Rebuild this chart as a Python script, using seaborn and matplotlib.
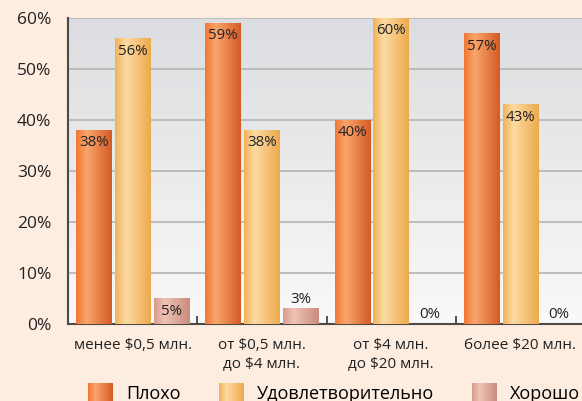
import numpy as np
import pandas as pd
import matplotlib
matplotlib.use('Agg')
import matplotlib.pyplot as plt
import seaborn as sns
from matplotlib.colors import LinearSegmentedColormap
from matplotlib.patches import Rectangle
from matplotlib.legend_handler import HandlerBase
from matplotlib.image import BboxImage
from matplotlib.transforms import Bbox, TransformedBbox

categories = ['менее $0,5 млн.', 'от $0,5 млн.\nдо $4 млн.',
              'от $4 млн.\nдо $20 млн.', 'более $20 млн.']
series = ['Плохо', 'Удовлетворительно', 'Хорошо']
plokho = [38, 59, 40, 57]
udovl = [56, 38, 60, 43]
khorosho = [5, 3, 0, 0]

# gradient stops per series: left, light, right
grad_colors = {
    'Плохо': ['#f27632', '#f9a56c', '#d45a24'],
    'Удовлетворительно': ['#f0b256', '#fcdaa2', '#edaa4c'],
    'Хорошо': ['#d99a8b', '#efc3b6', '#c98b7d'],
}
mid_colors = {k: v[1] for k, v in grad_colors.items()}

df = pd.DataFrame({
    'cat': categories * 3,
    'series': [s for s in series for _ in categories],
    'val': plokho + udovl + khorosho,
})

cmaps = {k: LinearSegmentedColormap.from_list(k, [(0, v[0]), (0.3, v[1]), (1, v[2])])
         for k, v in grad_colors.items()}
grad = np.linspace(0, 1, 256).reshape(1, -1)

plt.rcParams['font.family'] = ['Open Sans', 'DejaVu Sans']

fig = plt.figure(figsize=(5.82, 4.01), dpi=100)
fig.patch.set_facecolor('#fdece0')
ax = fig.add_axes([68 / 582, 77 / 401, 517 / 582, 306 / 401])

sns.barplot(data=df, x='cat', y='val', hue='series', palette=mid_colors,
            width=0.9, gap=0.08, ax=ax, legend=False, zorder=3)

# фон осей с градиентом
bg = LinearSegmentedColormap.from_list('bg', ['#f9f9f9', '#dcdde0'])
ax.imshow(np.linspace(0, 1, 256).reshape(-1, 1), extent=[-0.5, 3.5, 0, 60],
          origin='lower', aspect='auto', cmap=bg, zorder=0)

for name, cont in zip(series, ax.containers):
    for bar in cont:
        x, w, h = bar.get_x(), bar.get_width(), bar.get_height()
        if h > 0:
            bar.set_facecolor('none')
            ax.imshow(grad, extent=[x, x + w, 0, h], aspect='auto',
                      cmap=cmaps[name], zorder=3, interpolation='bilinear')
        if h >= 5:
            ax.text(x + w / 2, h - 2.5, f'{h:.0f}%', ha='center', va='center',
                    fontsize=10.8, color='#222222', zorder=5)
        else:
            ax.text(x + w / 2, h + 1.9, f'{h:.0f}%', ha='center', va='center',
                    fontsize=10.8, color='#222222', zorder=5)

ax.set_xlim(-0.5, 3.5)
ax.set_ylim(0, 60)
ax.set_yticks(range(0, 61, 10))
ax.set_yticklabels([f'{v}%' for v in range(0, 61, 10)], fontsize=12.5, color='#222222')
ax.yaxis.grid(True, color='#b9b9b9', linewidth=1.3, zorder=1)
ax.set_axisbelow(True)
ax.tick_params(axis='y', length=0, pad=12)
ax.tick_params(axis='x', length=0, pad=10, labelsize=11, labelcolor='#222222')
for lbl in ax.get_xticklabels():
    lbl.set_linespacing(1.35)
ax.set_xticks([0.5, 1.5, 2.5], minor=True)
ax.tick_params(axis='x', which='minor', direction='in', length=6, width=1.3, color='#444444')
ax.set_xlabel('')
ax.set_ylabel('')
for s in ['top', 'right']:
    ax.spines[s].set_visible(False)
for s in ['left', 'bottom']:
    ax.spines[s].set_color('#4a4a4a')
    ax.spines[s].set_linewidth(1.5)


class GradPatch(Rectangle):
    pass


class GradHandler(HandlerBase):
    def create_artists(self, legend, orig, xdescent, ydescent, width, height,
                       fontsize, trans):
        bb = TransformedBbox(Bbox.from_bounds(-xdescent, -ydescent, width, height), trans)
        img = BboxImage(bb, cmap=orig.cmap, interpolation='bilinear')
        img.set_data(grad)
        return [img]


handles = []
for name in series:
    p = GradPatch((0, 0), 1, 1)
    p.cmap = cmaps[name]
    handles.append(p)

fig.legend(handles, series, loc='center', bbox_to_anchor=(334 / 582, 1 - 393 / 401),
           ncol=3, frameon=False, fontsize=13, handlelength=1.35, handleheight=1.3,
           columnspacing=2.1, handletextpad=0.75, borderpad=0, borderaxespad=0,
           handler_map={GradPatch: GradHandler()})

fig.savefig('out.png', dpi=100, facecolor=fig.get_facecolor())
